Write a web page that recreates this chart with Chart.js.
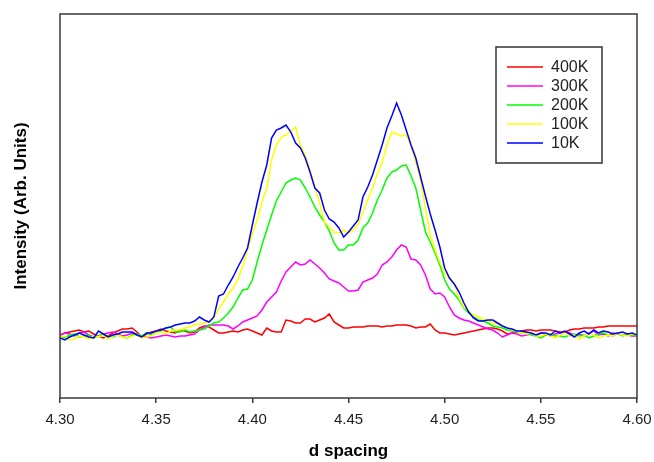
<!DOCTYPE html>
<html>
<head>
<meta charset="utf-8">
<script src="https://cdn.jsdelivr.net/npm/chart.js@4"></script>
<style>
  html, body { margin: 0; padding: 0; background: #fff; }
  canvas { display: block; }
</style>
</head>
<body>
<canvas id="xrdChart" width="654" height="462"></canvas>
<script>
// d spacing grid: 4.30 .. 4.60, 121 samples
const dStart = 4.30;
const dStep = 0.0025;

const seriesLabels = ['400K', '300K', '200K', '100K', '10K'];
const seriesColors = ['#ff0000', '#ff00ff', '#00ff00', '#ffff00', '#0000ff'];
const xTicks = [4.30, 4.35, 4.40, 4.45, 4.50, 4.55, 4.60];

// intensities (arb. units)
const int400K = [
  63, 65, 66, 67, 68, 66, 67, 64, 62, 60,
  62, 65, 67, 69, 69, 70, 66, 61, 64, 66,
  67, 69, 67, 66, 65, 68, 67, 65, 66, 70,
  72, 71, 68, 65, 65, 66, 67, 66, 68, 69,
  67, 65, 63, 70, 67, 66, 66, 78, 77, 75,
  75, 79, 79, 76, 78, 80, 84, 76, 73, 70,
  70, 71, 71, 71, 72, 72, 72, 71, 72, 72,
  73, 73, 73, 72, 70, 71, 71, 74, 68, 65,
  65, 64, 63, 64, 65, 66, 67, 68, 69, 70,
  70, 69, 67, 64, 65, 66, 67, 68, 68, 67,
  68, 68, 68, 67, 66, 66, 68, 69, 69, 70,
  70, 70, 71, 71, 72, 72, 72, 72, 72, 72,
  72
];
const int300K = [
  63, 65, 64, 62, 65, 66, 63, 61, 62, 64,
  65, 66, 64, 62, 63, 65, 64, 62, 61, 60,
  61, 62, 63, 62, 61, 62, 62, 63, 64, 68,
  71, 73, 73, 73, 73, 72, 69, 72, 76, 78,
  80, 82, 88, 96, 101, 106, 117, 126, 131, 136,
  133, 134, 138, 134, 130, 125, 119, 117, 115, 111,
  107, 107, 108, 116, 118, 120, 124, 133, 136, 141,
  148, 153, 151, 139, 138, 133, 123, 109, 104, 105,
  101, 91, 83, 80, 78, 77, 75, 73, 71, 69,
  68, 65, 61, 63, 65, 64, 62, 63, 64, 62,
  65, 64, 62, 64, 65, 66, 65, 63, 64, 62,
  65, 67, 63, 64, 62, 65, 64, 63, 63, 62,
  62
];
const int200K = [
  62, 60, 63, 64, 61, 62, 63, 60, 62, 64,
  62, 61, 63, 61, 60, 63, 64, 62, 65, 63,
  65, 67, 70, 71, 66, 66, 68, 66, 67, 68,
  69, 72, 75, 76, 80, 85, 91, 100, 108, 109,
  118, 136, 153, 168, 183, 197, 206, 215, 218, 220,
  218, 210, 201, 191, 183, 176, 167, 155, 148, 148,
  153, 153, 158, 170, 175, 185, 198, 208, 220, 226,
  228, 232, 233, 222, 210, 188, 166, 156, 145, 133,
  118, 109, 104, 98, 90, 85, 81, 78, 77, 75,
  72, 71, 70, 68, 67, 66, 65, 65, 63, 62,
  60, 63, 64, 62, 62, 61, 63, 64, 62, 63,
  60, 62, 64, 65, 63, 62, 65, 62, 64, 63,
  62
];
const int100K = [
  61, 62, 58, 59, 62, 61, 59, 62, 61, 63,
  59, 62, 63, 61, 60, 62, 63, 60, 61, 62,
  65, 66, 64, 67, 68, 68, 70, 71, 74, 74,
  75, 76, 80, 89, 96, 104, 110, 118, 132, 148,
  164, 178, 196, 210, 238, 253, 261, 263, 267, 271,
  253, 243, 228, 212, 195, 176, 171, 166, 165, 168,
  165, 168, 174, 186, 198, 210, 224, 236, 253, 266,
  264, 262, 263, 252, 236, 218, 190, 163, 148, 136,
  125, 119, 114, 100, 91, 87, 83, 81, 79, 77,
  75, 74, 72, 70, 68, 67, 65, 64, 65, 62,
  62, 64, 62, 60, 63, 65, 62, 63, 59, 62,
  65, 63, 60, 62, 63, 62, 65, 63, 62, 64,
  63
];
const int10K = [
  60, 58, 61, 63, 65, 63, 61, 60, 67, 64,
  61, 63, 64, 66, 66, 66, 63, 61, 65, 65,
  67, 68, 70, 71, 73, 74, 75, 75, 77, 81,
  78, 76, 81, 102, 104, 113, 121, 131, 140, 150,
  173, 195, 216, 233, 260, 268, 270, 273, 266, 255,
  250, 240, 226, 210, 205, 188, 179, 176, 170, 161,
  166, 172, 178, 201, 211, 223, 238, 253, 270, 282,
  295, 283, 268, 253, 240, 221, 202, 184, 168, 151,
  130, 120, 114, 106, 95, 86, 80, 77, 77, 78,
  78, 75, 72, 70, 69, 67, 67, 66, 65, 63,
  65, 65, 63, 67, 65, 67, 64, 61, 65, 67,
  64, 68, 65, 67, 66, 64, 65, 66, 64, 65,
  63
];

const seriesValues = [int400K, int300K, int200K, int100K, int10K];

const toPoints = (vals) => vals.map((v, i) => ({ x: +(dStart + i * dStep).toFixed(4), y: v }));

// frame round the plot area
const plotFrame = {
  id: 'plotFrame',
  afterDraw(chart) {
    const { ctx, chartArea: a } = chart;
    ctx.save();
    ctx.strokeStyle = '#3a3a3a';
    ctx.lineWidth = 1.5;
    ctx.strokeRect(a.left, a.top, a.right - a.left, a.bottom - a.top);
    ctx.restore();
  }
};

// boxed legend in the upper right of the plot
const boxedLegend = {
  id: 'boxedLegend',
  afterDraw(chart) {
    const { ctx, chartArea: a } = chart;
    const left = a.right - 141, top = a.top + 33;
    ctx.save();
    ctx.strokeStyle = '#333';
    ctx.lineWidth = 1.5;
    ctx.strokeRect(left, top, 106, 116);
    ctx.font = '16px "Liberation Sans", Arial, sans-serif';
    ctx.textBaseline = 'middle';
    ctx.fillStyle = '#222';
    chart.data.datasets.forEach((ds, i) => {
      const y = top + 20 + i * 19;
      ctx.strokeStyle = ds.borderColor;
      ctx.lineWidth = 1.5;
      ctx.beginPath();
      ctx.moveTo(left + 11, y);
      ctx.lineTo(left + 47, y);
      ctx.stroke();
      ctx.fillText(ds.label, left + 55, y + 1);
    });
    ctx.restore();
  }
};

new Chart(document.getElementById('xrdChart'), {
  type: 'line',
  data: {
    datasets: seriesLabels.map((label, i) => ({
      label,
      data: toPoints(seriesValues[i]),
      borderColor: seriesColors[i],
      backgroundColor: seriesColors[i],
      borderWidth: 1.5,
      pointRadius: 0,
      tension: 0,
      order: seriesLabels.length - i
    }))
  },
  options: {
    responsive: false,
    animation: false,
    devicePixelRatio: 1,
    layout: { padding: { top: 14, right: 17, left: 0, bottom: 0 } },
    plugins: {
      legend: { display: false },
      tooltip: { enabled: false }
    },
    scales: {
      x: {
        type: 'linear',
        min: 4.30,
        max: 4.60,
        afterBuildTicks: (scale) => { scale.ticks = xTicks.map(v => ({ value: v })); },
        afterFit: (scale) => {
          scale.height = 64;
          scale.paddingLeft = 0;
          scale.paddingRight = 0;
        },
        border: { display: false },
        grid: { drawOnChartArea: false, drawTicks: true, tickLength: 5, color: '#3a3a3a', lineWidth: 1.5 },
        ticks: {
          padding: 8,
          color: '#1e1e1e',
          font: { family: '"Liberation Sans", Arial, sans-serif', size: 15 },
          callback: (v) => Number(v).toFixed(2)
        },
        title: {
          display: true,
          text: 'd spacing',
          color: '#000',
          padding: { top: 0, bottom: 0 },
          font: { family: '"Liberation Sans", Arial, sans-serif', size: 17, weight: 'bold' }
        }
      },
      y: {
        min: 0,
        max: 384,
        afterFit: (scale) => { scale.width = 60; },
        border: { display: false },
        grid: { display: false },
        ticks: { display: false },
        title: {
          display: true,
          text: 'Intensity (Arb. Units)',
          color: '#000',
          padding: { top: 11, bottom: 0 },
          font: { family: '"Liberation Sans", Arial, sans-serif', size: 17, weight: 'bold' }
        }
      }
    }
  },
  plugins: [plotFrame, boxedLegend]
});
</script>
</body>
</html>
